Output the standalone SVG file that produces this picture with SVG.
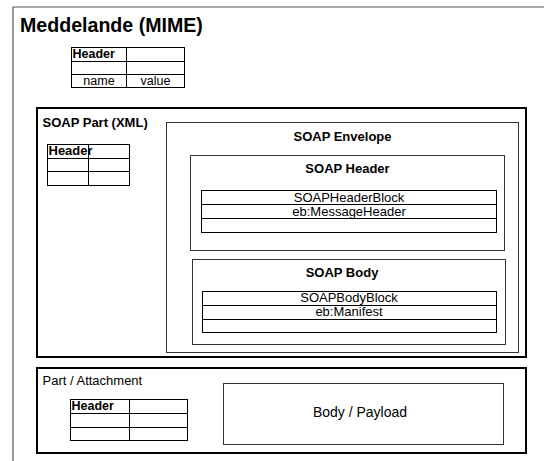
<svg xmlns="http://www.w3.org/2000/svg" width="544" height="461" viewBox="0 0 544 461">
  <style>
    .frame { fill: none; stroke: #555; stroke-width: 1.2; }
    .part { fill: #fff; stroke: #000; stroke-width: 2; }
    .box { fill: #fff; stroke: #333; stroke-width: 1; }
    .tbl { fill: #fff; stroke: #000; stroke-width: 1; }
    .grid { stroke: #000; stroke-width: 1; }
    text { font-family: "Liberation Sans", Arial, sans-serif; fill: #000; }
    .title { font-size: 19.6px; font-weight: bold; }
    .h { font-size: 13px; font-weight: bold; }
    .hdr { font-size: 12.5px; font-weight: bold; }
    .cell { font-size: 12.5px; }
    .row { font-size: 13px; text-anchor: middle; }
    .mid { text-anchor: middle; }
  </style>
  <rect width="544" height="461" fill="#fff"/>

  <!-- MIME message frame (open to the right and bottom) -->
  <g id="message">
    <path class="frame" d="M13,461 V7 H544"/>
    <text class="title" x="20" y="32">Meddelande (MIME)</text>
  </g>

  <!-- MIME header table -->
  <g id="mime-header">
    <rect class="tbl" x="71.5" y="47.5" width="113" height="40"/>
    <path class="grid" d="M71.5,61.5 H184.5 M71.5,74.5 H184.5 M126.5,47.5 V87.5"/>
    <text class="hdr" x="72.5" y="57.5">Header</text>
    <text class="cell mid" x="99" y="85">name</text>
    <text class="cell mid" x="155.5" y="85">value</text>
  </g>

  <!-- SOAP part -->
  <g id="soap-part">
    <rect class="part" x="37" y="108" width="489" height="249"/>
    <text class="h" x="42.5" y="127">SOAP Part (XML)</text>
  </g>

  <g id="soap-part-header">
    <rect class="tbl" x="47.5" y="144.5" width="82" height="41"/>
    <path class="grid" d="M47.5,158.5 H129.5 M47.5,171.5 H129.5 M88.5,144.5 V185.5"/>
    <text class="hdr" x="48.5" y="155" style="font-size:13px">Header</text>
  </g>

  <g id="soap-envelope">
    <rect class="box" x="166.5" y="122.5" width="352" height="230"/>
    <text class="h mid" x="342.5" y="140.5">SOAP Envelope</text>
  </g>

  <g id="soap-header">
    <rect class="box" x="190.5" y="155.5" width="314" height="95"/>
    <text class="h mid" x="347.5" y="173">SOAP Header</text>
  </g>

  <g id="soap-header-block">
    <rect class="tbl" x="201.5" y="190.5" width="295" height="42"/>
    <path class="grid" d="M201.5,204.5 H496.5 M201.5,218.5 H496.5"/>
    <text class="row" x="349" y="201.5">SOAPHeaderBlock</text>
    <text class="row" x="349" y="215.5">eb:MessageHeader</text>
  </g>

  <g id="soap-body">
    <rect class="box" x="192.5" y="259.5" width="313" height="85"/>
    <text class="h mid" x="342" y="276.5">SOAP Body</text>
  </g>

  <g id="soap-body-block">
    <rect class="tbl" x="202.5" y="291.5" width="294" height="41"/>
    <path class="grid" d="M202.5,305.5 H496.5 M202.5,319.5 H496.5"/>
    <text class="row" x="349" y="302">SOAPBodyBlock</text>
    <text class="row" x="349" y="316">eb:Manifest</text>
  </g>

  <!-- attachment part -->
  <g id="attachment">
    <rect class="part" x="37" y="368" width="489" height="85"/>
    <text x="42.5" y="385" style="font-size:13px">Part / Attachment</text>
  </g>

  <g id="attachment-header">
    <rect class="tbl" x="70.5" y="399.5" width="117" height="41"/>
    <path class="grid" d="M70.5,413.5 H187.5 M70.5,427.5 H187.5 M129.5,399.5 V440.5"/>
    <text class="hdr" x="71.5" y="410">Header</text>
  </g>

  <g id="payload">
    <rect class="box" x="223.5" y="383.5" width="280" height="61"/>
    <text class="mid" x="360" y="416.5" style="font-size:14px">Body / Payload</text>
  </g>

  <!-- no connectors in this diagram -->
  <g id="connectors"/>
</svg>
